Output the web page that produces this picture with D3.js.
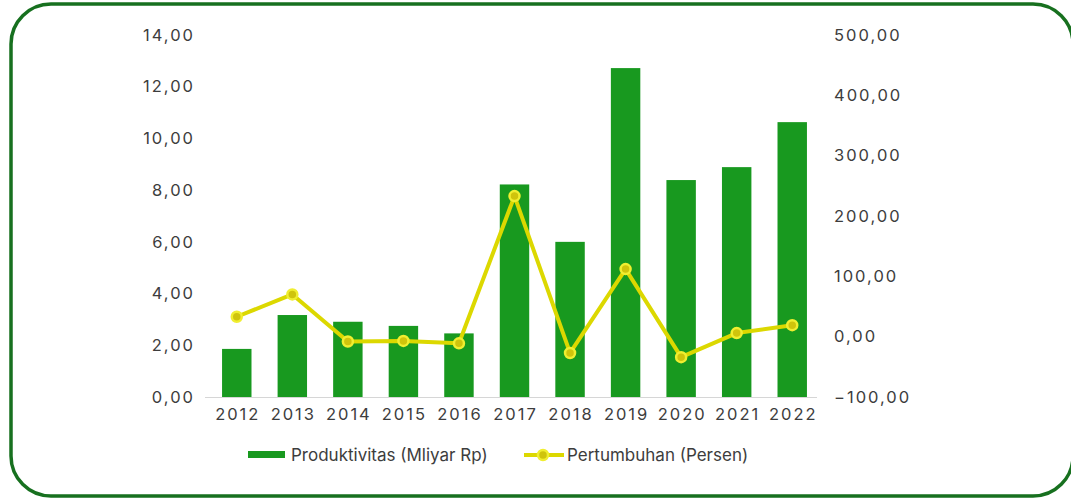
<!DOCTYPE html>
<html>
<head>
<meta charset="utf-8">
<script src="https://cdn.jsdelivr.net/npm/d3@7"></script>
<style>
  html, body { margin: 0; padding: 0; background: #fff; }
  svg { display: block; }
  text { font-family: "Inter", "Open Sans", sans-serif; fill: #3d3d3d; }
</style>
</head>
<body>
<svg id="chart" width="1071" height="499"></svg>
<script>
// Data
const years = ["2012","2013","2014","2015","2016","2017","2018","2019","2020","2021","2022"];
const produktivitas = [1.86, 3.17, 2.91, 2.75, 2.46, 8.22, 6.00, 12.72, 8.39, 8.89, 10.63];
const pertumbuhan = [33, 70, -8, -7, -11, 233, -27, 112, -34, 6, 19];
const leftTicks = [0, 2, 4, 6, 8, 10, 12, 14];
const rightTicks = [-100, 0, 100, 200, 300, 400, 500];

const svg = d3.select("#chart");
const numSize = "16.5px", numSpacing = "2px";

// Rounded green frame
svg.append("rect")
  .attr("x", 11).attr("y", 4)
  .attr("width", 1062).attr("height", 492)
  .attr("rx", 40).attr("ry", 40)
  .attr("fill", "none")
  .attr("stroke", "#17701f")
  .attr("stroke-width", 3.5);

const plotTop = 35, plotBottom = 397;
const x = d3.scaleBand().domain(years).range([209, 820]).paddingInner(0.47).paddingOuter(0.235);
const yL = d3.scaleLinear().domain([0, 14]).range([plotBottom, plotTop]);
const yR = d3.scaleLinear().domain([-100, 500]).range([plotBottom, plotTop]);

const fmt = v => d3.format(".2f")(v).replace(".", ",");

function styleNums(g) {
  g.select(".domain").remove();
  g.selectAll("text")
    .style("font-size", numSize)
    .style("letter-spacing", numSpacing)
    .attr("fill", "#3d3d3d");
}

// Left axis
svg.append("g").attr("transform", "translate(195,0)")
  .call(d3.axisLeft(yL).tickValues(leftTicks).tickFormat(fmt).tickSize(0).tickPadding(0))
  .call(styleNums);

// Right axis
svg.append("g").attr("transform", "translate(834,0)")
  .call(d3.axisRight(yR).tickValues(rightTicks).tickFormat(fmt).tickSize(0).tickPadding(0))
  .call(styleNums);

// Bars
svg.append("g").selectAll("rect").data(years).join("rect")
  .attr("x", d => x(d))
  .attr("width", x.bandwidth())
  .attr("y", (d, i) => yL(produktivitas[i]))
  .attr("height", (d, i) => yL(0) - yL(produktivitas[i]))
  .attr("fill", "#18991f");

// Category axis
svg.append("line")
  .attr("x1", 205).attr("x2", 817)
  .attr("y1", plotBottom + 0.5).attr("y2", plotBottom + 0.5)
  .attr("stroke", "#d6d6d6").attr("stroke-width", 1);
svg.append("g").attr("transform", `translate(1,${plotBottom})`)
  .call(d3.axisBottom(x).tickSize(0).tickPadding(11))
  .call(styleNums);

// Growth line
const cx = i => x(years[i]) + x.bandwidth() / 2;
const line = d3.line().x((d, i) => cx(i)).y(d => yR(d));
svg.append("path").datum(pertumbuhan)
  .attr("d", line)
  .attr("fill", "none")
  .attr("stroke", "#dcd800")
  .attr("stroke-width", 4)
  .attr("stroke-linejoin", "round");
svg.append("g").selectAll("circle").data(pertumbuhan).join("circle")
  .attr("cx", (d, i) => cx(i))
  .attr("cy", d => yR(d))
  .attr("r", 5)
  .attr("fill", "#cfc40c")
  .attr("stroke", "#f0ee30")
  .attr("stroke-width", 2.5);

// Legend
const lg = svg.append("g");
lg.append("rect").attr("x", 248).attr("y", 451).attr("width", 37).attr("height", 7).attr("fill", "#18991f");
lg.append("text").attr("x", 291).attr("y", 455).attr("dy", "0.35em")
  .style("font-size", "17px").text("Produktivitas (Mliyar Rp)");
lg.append("line").attr("x1", 524).attr("x2", 564).attr("y1", 455).attr("y2", 455)
  .attr("stroke", "#dcd800").attr("stroke-width", 4);
lg.append("circle").attr("cx", 543).attr("cy", 455).attr("r", 5)
  .attr("fill", "#cfc40c").attr("stroke", "#f0ee30").attr("stroke-width", 2.5);
lg.append("text").attr("x", 567).attr("y", 455).attr("dy", "0.35em")
  .style("font-size", "17px").text("Pertumbuhan (Persen)");
</script>
</body>
</html>
